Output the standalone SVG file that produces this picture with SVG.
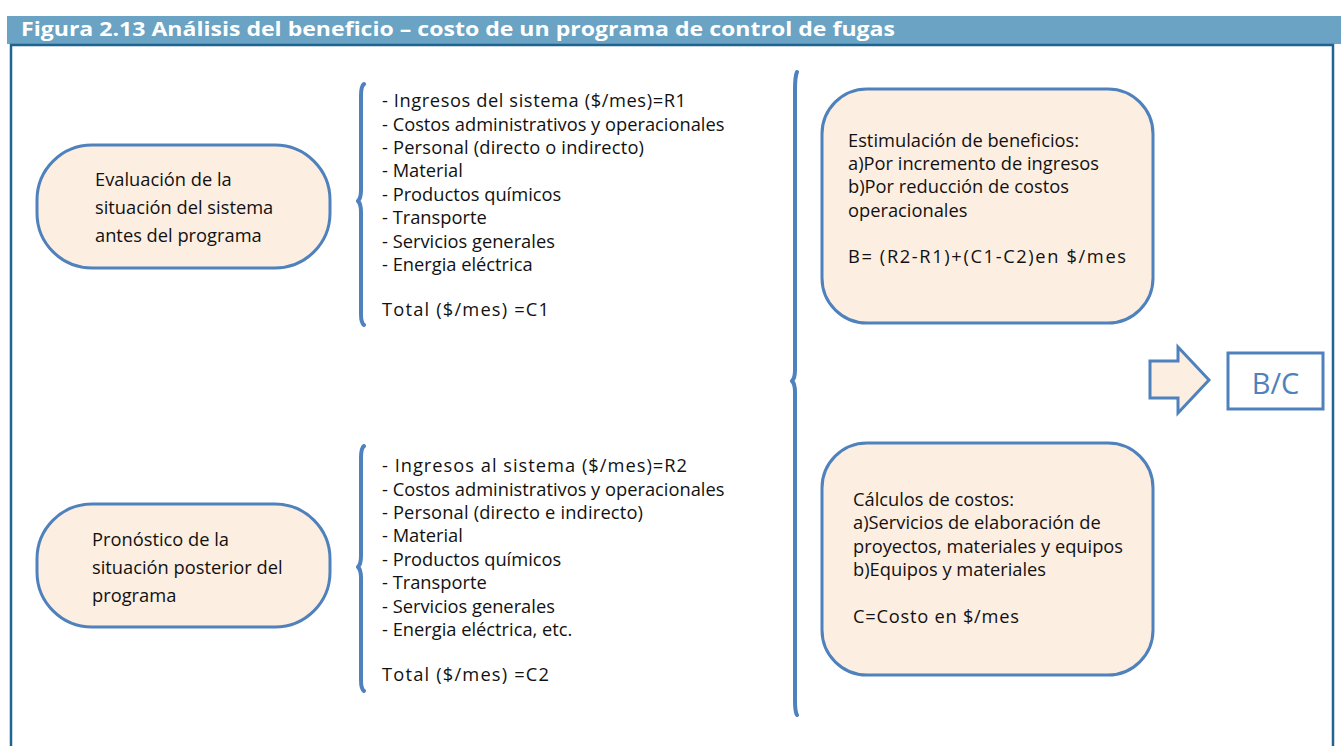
<svg xmlns="http://www.w3.org/2000/svg" width="1341" height="746" viewBox="0 0 1341 746">
<style>
.t{font-family:"Open Sans","Liberation Sans",Arial,sans-serif;font-size:18.3px;fill:#111}
.node{fill:#fdeee2;stroke:#4f81bd;stroke-width:3}
.brace{fill:none;stroke:#4f81bd;stroke-width:4;stroke-linecap:round;stroke-linejoin:round}
</style>
<rect x="0" y="0" width="1341" height="746" fill="#fff"/>
<g id="frame">
<rect x="7" y="16" width="1334" height="28" fill="#6aa3c3"/>
<text x="21" y="36" font-family="'Open Sans','Liberation Sans',Arial,sans-serif" font-size="20" font-weight="bold" fill="#fff" textLength="874" lengthAdjust="spacingAndGlyphs">Figura 2.13  Análisis del beneficio – costo de un programa de control de fugas</text>
<path d="M11 746 V45 H1333 V746" fill="none" stroke="#1d6590" stroke-width="2.5"/>
</g>
<g id="n1">
<rect class="node" x="37" y="145" width="293" height="123" rx="55"/>
<text class="t" x="95" y="186">Evaluación de la</text>
<text class="t" x="95" y="214">situación del sistema</text>
<text class="t" x="95" y="242">antes del programa</text>
</g>
<g id="n2">
<rect class="node" x="37" y="504" width="293" height="123" rx="55"/>
<text class="t" x="92" y="546">Pronóstico de la</text>
<text class="t" x="92" y="574">situación posterior del</text>
<text class="t" x="92" y="602">programa</text>
</g>
<g id="list1">
<text class="t" x="382" y="107" textLength="304">- Ingresos del sistema ($/mes)=R1</text>
<text class="t" x="382" y="131">- Costos administrativos y operacionales</text>
<text class="t" x="382" y="154" textLength="262">- Personal (directo o indirecto)</text>
<text class="t" x="382" y="177">- Material</text>
<text class="t" x="382" y="201">- Productos químicos</text>
<text class="t" x="382" y="224">- Transporte</text>
<text class="t" x="382" y="248">- Servicios generales</text>
<text class="t" x="382" y="271">- Energia eléctrica</text>
<text class="t" x="382" y="316" textLength="167">Total ($/mes) =C1</text>
</g>
<g id="list2">
<text class="t" x="382" y="472" textLength="305">- Ingresos al sistema ($/mes)=R2</text>
<text class="t" x="382" y="496">- Costos administrativos y operacionales</text>
<text class="t" x="382" y="519" textLength="261">- Personal (directo e indirecto)</text>
<text class="t" x="382" y="542">- Material</text>
<text class="t" x="382" y="566">- Productos químicos</text>
<text class="t" x="382" y="589">- Transporte</text>
<text class="t" x="382" y="613">- Servicios generales</text>
<text class="t" x="382" y="636">- Energia eléctrica, etc.</text>
<text class="t" x="382" y="681" textLength="167">Total ($/mes) =C2</text>
</g>
<g id="nB">
<rect class="node" x="822" y="89" width="331" height="234" rx="45"/>
<text class="t" x="848" y="147">Estimulación de beneficios:</text>
<text class="t" x="848" y="170">a)Por incremento de ingresos</text>
<text class="t" x="848" y="193">b)Por reducción de costos</text>
<text class="t" x="848" y="217">operacionales</text>
<text class="t" x="848" y="263" textLength="278">B= (R2-R1)+(C1-C2)en $/mes</text>
</g>
<g id="nC">
<rect class="node" x="822" y="443" width="331" height="232" rx="45"/>
<text class="t" x="853" y="506">Cálculos de costos:</text>
<text class="t" x="853" y="529">a)Servicios de elaboración de</text>
<text class="t" x="853" y="553">proyectos, materiales y equipos</text>
<text class="t" x="853" y="576">b)Equipos y materiales</text>
<text class="t" x="853" y="623" textLength="166">C=Costo en $/mes</text>
</g>
<g id="nBC">
<rect x="1228" y="353" width="95" height="56" fill="#fff" stroke="#4f81bd" stroke-width="3"/>
<text x="1275.5" y="394" text-anchor="middle" font-family="'Open Sans','Liberation Sans',Arial,sans-serif" font-size="29" fill="#4f81bd">B/C</text>
</g>
<g id="connectors">
<path class="brace" d="M364 84 Q361 86 361 96 V190 Q361 198 358 201 Q361 204 361 212 V314 Q361 323 364 325"/>
<path class="brace" d="M364 446 Q361 448 361 458 V556 Q361 564 358 567 Q361 570 361 578 V680 Q361 689 364 691"/>
<path class="brace" d="M797 72 Q795 76 795 90 V370 Q795 378 792 381 Q795 384 795 392 V700 Q795 712 797 715"/>
<path d="M1150 361 H1178 V347 L1209 380 L1178 413 V398 H1150 Z" fill="#fdeee2" stroke="#4f81bd" stroke-width="3" stroke-linejoin="miter"/>
</g>
</svg>
